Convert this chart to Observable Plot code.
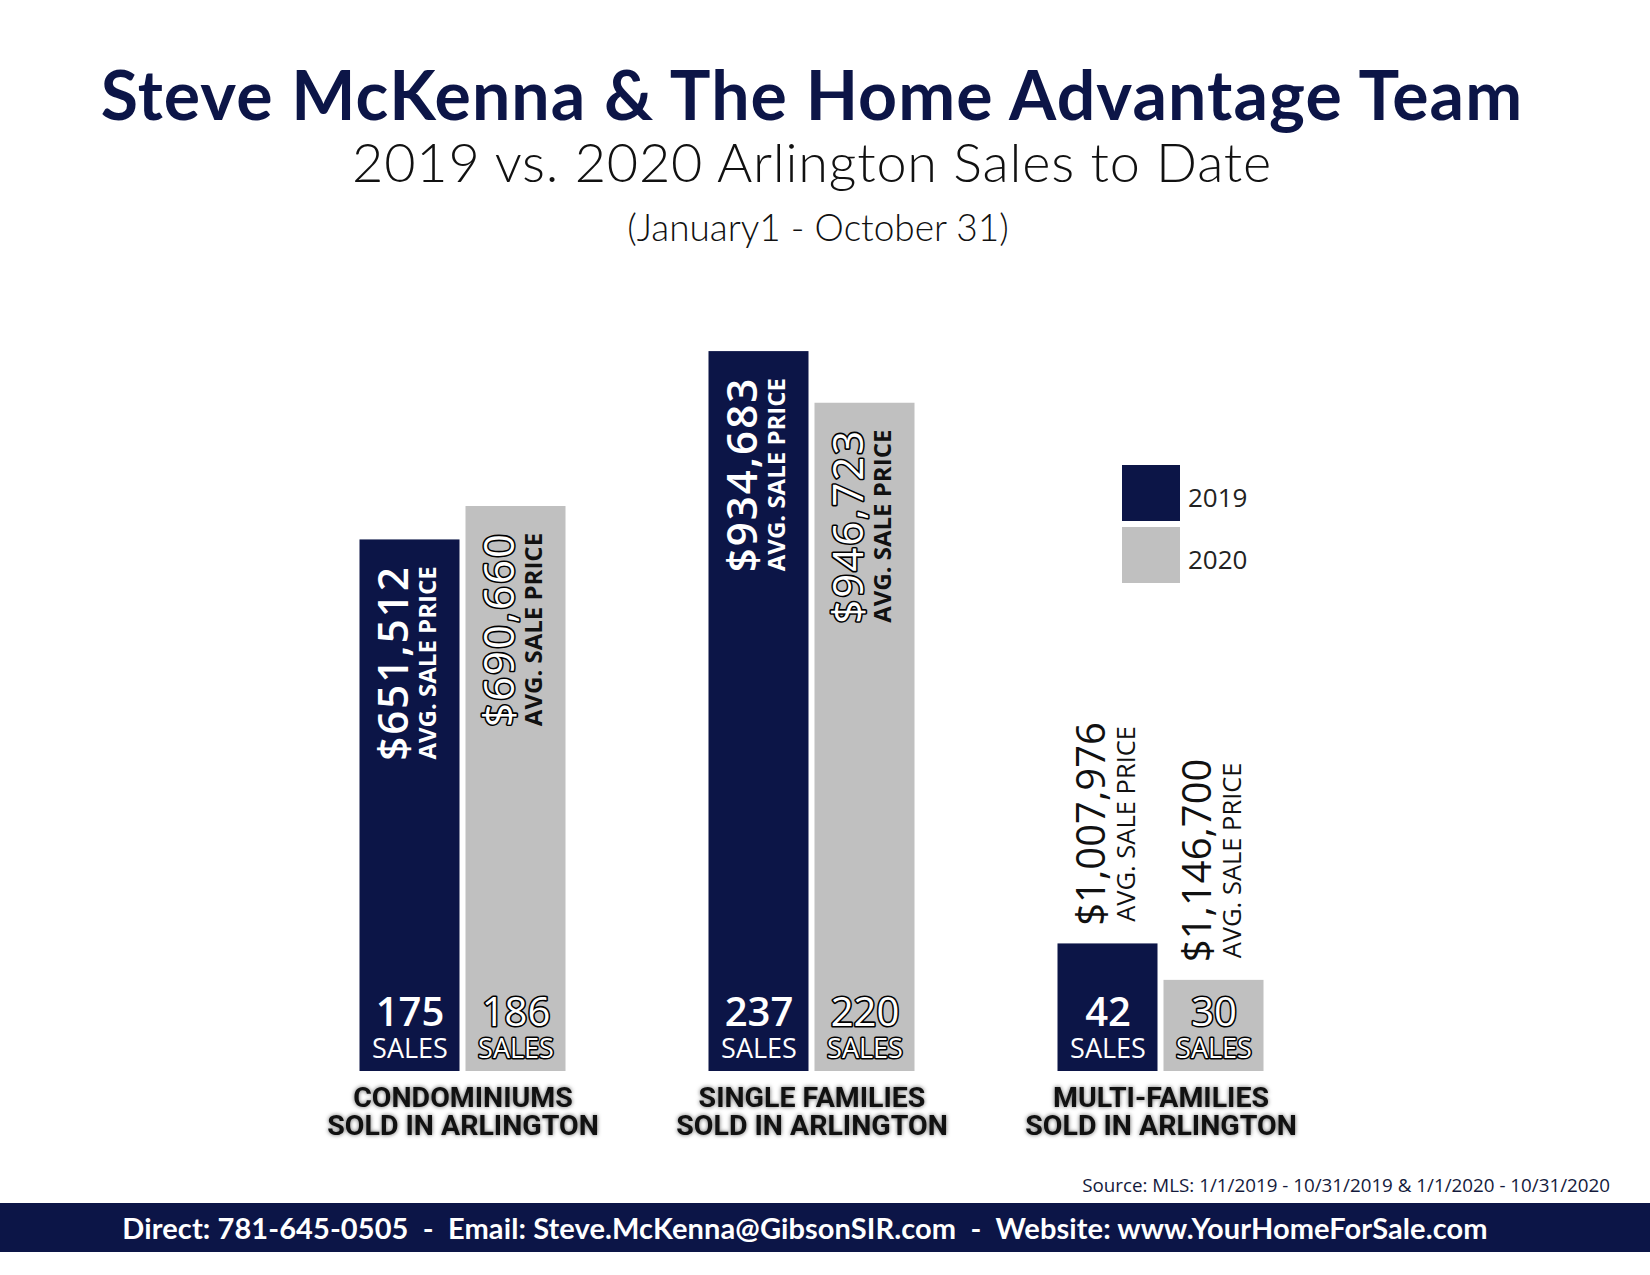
<!DOCTYPE html>
<html>
<head>
<meta charset="utf-8">
<script src="https://cdn.jsdelivr.net/npm/d3@7"></script>
<script src="https://cdn.jsdelivr.net/npm/@observablehq/plot@0.6"></script>
<style>
  body { margin: 0; background: #fff; }
  #page { position: relative; width: 1650px; height: 1275px; overflow: hidden; background: #fff; }
  .hd { position: absolute; left: 0; width: 1624px; text-align: center; white-space: nowrap; font-family: Lato, sans-serif; }
  #title { top: 60px; font-size: 68px; line-height: 68px; font-weight: 700; color: #0c1547; letter-spacing: 1.1px; }
  #subtitle { top: 135px; font-size: 54px; line-height: 54px; font-weight: 300; color: #111; letter-spacing: 0.8px; }
  #dates { top: 208px; font-size: 37px; line-height: 37px; font-weight: 300; color: #111; }
  #dates { left: 6px; }
  #chart { position: absolute; left: 0; top: 290px; }
  #legend { position: absolute; left: 1122px; top: 465px; font-family: 'Open Sans', sans-serif; }
  .lg { display: flex; align-items: center; margin-bottom: 6px; }
  .sw { width: 58px; height: 56px; margin-right: 8px; }
  .lt { font-size: 26px; color: #222; position: relative; top: 4px; }
  #source { position: absolute; right: 40px; top: 1173px; font-family: 'Open Sans', sans-serif; font-size: 18.8px; line-height: 24px; color: #141a3c; }
  #footer { position: absolute; left: 0; top: 1203px; width: 1650px; height: 49px; background: #0c1547; }
  #footer div { width: 1610px; text-align: center; color: #fff; font-family: Lato, sans-serif; font-weight: 700; font-size: 29px; line-height: 49px; letter-spacing: 0.1px; white-space: pre; }
  text[aria-label="price-inside"] { letter-spacing: 2px; }
  text[aria-label="cat-label"] { filter: drop-shadow(0 0 2px rgba(0,0,0,0.6)); }
</style>
</head>
<body>
<div id="page">
  <div class="hd" id="title"></div>
  <div class="hd" id="subtitle"></div>
  <div class="hd" id="dates"></div>
  <div id="chart"></div>
  <div id="legend"></div>
  <div id="source"></div>
  <div id="footer"><div></div></div>
</div>
<script>
// ---- Text ----
const titleText = "Steve McKenna & The Home Advantage Team";
const subtitleText = "2019 vs. 2020 Arlington Sales to Date";
const datesText = "(January1 - October 31)";
const sourceText = "Source: MLS: 1/1/2019 - 10/31/2019 & 1/1/2020 - 10/31/2020";
const footerText = "Direct: 781-645-0505  -  Email: Steve.McKenna@GibsonSIR.com  -  Website: www.YourHomeForSale.com";

// ---- Data ----
const categories = ["CONDOMINIUMS\nSOLD IN ARLINGTON", "SINGLE FAMILIES\nSOLD IN ARLINGTON", "MULTI-FAMILIES\nSOLD IN ARLINGTON"];
const years = ["2019", "2020"];
const sales2019 = [175, 237, 42];
const sales2020 = [186, 220, 30];
const avgPrice2019 = [651512, 934683, 1007976];
const avgPrice2020 = [690660, 946723, 1146700];
const salesLabel = "SALES";
const priceLabel = "AVG. SALE PRICE";
const colors = ["#0c1547", "#c0c0c0"];

// ---- Build table ----
const rows = categories.flatMap((c, i) => [
  {cat: c, year: years[0], sales: sales2019[i], price: avgPrice2019[i]},
  {cat: c, year: years[1], sales: sales2020[i], price: avgPrice2020[i]}
]);
const fmt = d3.format(",");
const priceText = d => "$" + fmt(d.price);
const is19 = d => d.year === years[0];
const inside = d => d.sales >= 100;
const OS = "'Open Sans', sans-serif";

const chart = Plot.plot({
  width: 1650,
  height: 850,
  marginLeft: 358.5,
  marginRight: 385.5,
  marginTop: 12.5,
  marginBottom: 69,
  fx: {domain: categories, paddingInner: 0.408, paddingOuter: 0, axis: null, label: null},
  x: {domain: years, paddingInner: 0.06, paddingOuter: 0, axis: null, label: null},
  y: {domain: [0, 253], axis: null, label: null},
  color: {domain: years, range: colors},
  style: {background: "transparent", overflow: "visible"},
  marks: [
    Plot.barY(rows, {fx: "cat", x: "year", y: "sales", fill: "year"}),
    // sales counts
    Plot.text(rows, {filter: is19, fx: "cat", x: "year", frameAnchor: "bottom", dy: -58, lineAnchor: "middle",
      text: d => String(d.sales), fill: "white", fontFamily: OS, fontSize: 40, fontWeight: 600}),
    Plot.text(rows, {filter: d => !is19(d), fx: "cat", x: "year", frameAnchor: "bottom", dy: -58, lineAnchor: "middle",
      text: d => String(d.sales), fill: "white", stroke: "#000", strokeWidth: 3.2, paintOrder: "stroke",
      fontFamily: OS, fontSize: 40, fontWeight: 400}),
    Plot.text(rows, {filter: is19, fx: "cat", x: "year", frameAnchor: "bottom", dy: -22, lineAnchor: "middle",
      text: () => salesLabel, fill: "white", fontFamily: OS, fontSize: 27, fontWeight: 400}),
    Plot.text(rows, {filter: d => !is19(d), fx: "cat", x: "year", frameAnchor: "bottom", dy: -22, lineAnchor: "middle",
      text: () => salesLabel, fill: "white", stroke: "#000", strokeWidth: 3, paintOrder: "stroke",
      fontFamily: OS, fontSize: 27, fontWeight: 400}),
    // prices inside tall bars
    Plot.text(rows, {filter: d => inside(d) && is19(d), fx: "cat", x: "year", y: "sales", dy: 123, dx: -15,
      rotate: -90, textAnchor: "middle", lineAnchor: "middle", text: priceText, fill: "white",
      fontFamily: OS, fontSize: 42, fontWeight: 600, ariaLabel: () => "price-inside"}),
    Plot.text(rows, {filter: d => inside(d) && !is19(d), fx: "cat", x: "year", y: "sales", dy: 123, dx: -15,
      rotate: -90, textAnchor: "middle", lineAnchor: "middle", text: priceText, fill: "white",
      stroke: "#000", strokeWidth: 3.2, paintOrder: "stroke",
      fontFamily: OS, fontSize: 42, fontWeight: 400, ariaLabel: () => "price-inside"}),
    Plot.text(rows, {filter: d => inside(d) && is19(d), fx: "cat", x: "year", y: "sales", dy: 123, dx: 18,
      rotate: -90, textAnchor: "middle", lineAnchor: "middle", text: () => priceLabel, fill: "white",
      fontFamily: OS, fontSize: 24, fontWeight: 700}),
    Plot.text(rows, {filter: d => inside(d) && !is19(d), fx: "cat", x: "year", y: "sales", dy: 123, dx: 18,
      rotate: -90, textAnchor: "middle", lineAnchor: "middle", text: () => priceLabel, fill: "#111",
      fontFamily: OS, fontSize: 24, fontWeight: 700}),
    // prices above short bars
    Plot.text(rows, {filter: d => !inside(d), fx: "cat", x: "year", y: "sales", dy: -120, dx: -16,
      rotate: -90, textAnchor: "middle", lineAnchor: "middle", text: priceText, fill: "#111",
      fontFamily: OS, fontSize: 40, fontWeight: 400}),
    Plot.text(rows, {filter: d => !inside(d), fx: "cat", x: "year", y: "sales", dy: -120, dx: 19,
      rotate: -90, textAnchor: "middle", lineAnchor: "middle", text: () => priceLabel, fill: "#111",
      fontFamily: OS, fontSize: 25.5, fontWeight: 400}),
    // category labels
    Plot.text(categories, {fx: d => d, text: d => d, frameAnchor: "bottom", dy: 15, lineAnchor: "top", lineHeight: 1,
      fill: "#111", fontFamily: "Roboto, sans-serif",
      fontSize: 28.5, fontWeight: 700, ariaLabel: () => "cat-label"})
  ]
});
document.getElementById("chart").appendChild(chart);

document.getElementById("title").textContent = titleText;
document.getElementById("subtitle").textContent = subtitleText;
document.getElementById("dates").textContent = datesText;
document.getElementById("source").textContent = sourceText;
document.querySelector("#footer div").textContent = footerText;

const legend = d3.select("#legend");
years.forEach((y, i) => {
  const row = legend.append("div").attr("class", "lg");
  row.append("span").attr("class", "sw").style("background", colors[i]);
  row.append("span").attr("class", "lt").text(y);
});
</script>
</body>
</html>
